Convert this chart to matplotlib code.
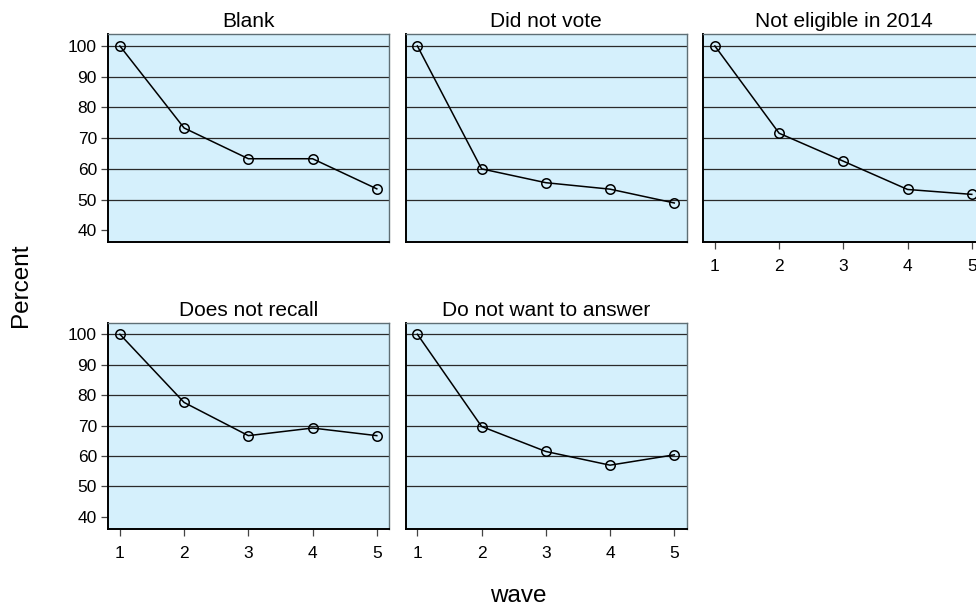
import matplotlib.pyplot as plt

plt.rcParams['font.family'] = ['Liberation Sans', 'DejaVu Sans']

waves = [1, 2, 3, 4, 5]
groups = ['Blank', 'Did not vote', 'Not eligible in 2014',
          'Does not recall', 'Do not want to answer']

blank = [100, 73.3, 63.3, 63.3, 53.5]
did_not_vote = [100, 60.0, 55.5, 53.4, 48.9]
not_eligible = [100, 71.6, 62.5, 53.3, 51.7]
does_not_recall = [100, 77.6, 66.7, 69.2, 66.7]
no_answer = [100, 69.7, 61.5, 57.0, 60.4]

series = [blank, did_not_vote, not_eligible, does_not_recall, no_answer]
yticks = [40, 50, 60, 70, 80, 90, 100]

fig = plt.figure(figsize=(9.76, 6.08), dpi=100)
W, H = 976, 608

# panel placement in pixels (third column runs off the right edge, like the original)
lefts = [108, 405.5, 703]
pw = 281
rows = [(34.3, 242), (322.7, 528.5)]

bg = '#D5F0FC'

for i, (name, vals) in enumerate(zip(groups, series)):
    r, c = divmod(i, 3)
    top, bot = rows[r]
    ax = fig.add_axes([lefts[c] / W, 1 - bot / H, pw / W, (bot - top) / H])
    ax.set_facecolor(bg)
    ax.set_xlim(0.815, 5.19)
    ax.set_ylim(36.2, 103.8)
    for y in yticks[1:]:
        ax.axhline(y, color='#2a2a2a', lw=0.9, zorder=1)
    ax.plot(waves, vals, color='black', lw=1.1, marker='o', markersize=6.8,
            markerfacecolor='none', markeredgecolor='black', markeredgewidth=1.1,
            zorder=3, clip_on=False)
    ax.set_title(name, fontsize=15, pad=5)

    for s in ['top', 'right']:
        ax.spines[s].set_color('#5f6f75')
        ax.spines[s].set_linewidth(1.0)
    for s in ['left', 'bottom']:
        ax.spines[s].set_color('black')
        ax.spines[s].set_linewidth(1.4)

    ax.tick_params(direction='out', length=5, width=0.9, color='#444444',
                   labelsize=12.5)
    ax.tick_params(axis='x', pad=7.5)
    ax.tick_params(axis='y', pad=3)
    if r == 1 or c == 2:
        ax.set_xticks(waves)
    else:
        ax.set_xticks([])
    if c == 0:
        ax.set_yticks(yticks)
    else:
        ax.set_yticks([])

fig.text(21 / W, 1 - 285 / H, 'Percent', rotation=90, fontsize=17.5,
         ha='center', va='center')
fig.text(518 / W, 1 - 596 / H, 'wave', fontsize=17.5, ha='center', va='center')

fig.savefig('out.png', dpi=100, facecolor='white')
